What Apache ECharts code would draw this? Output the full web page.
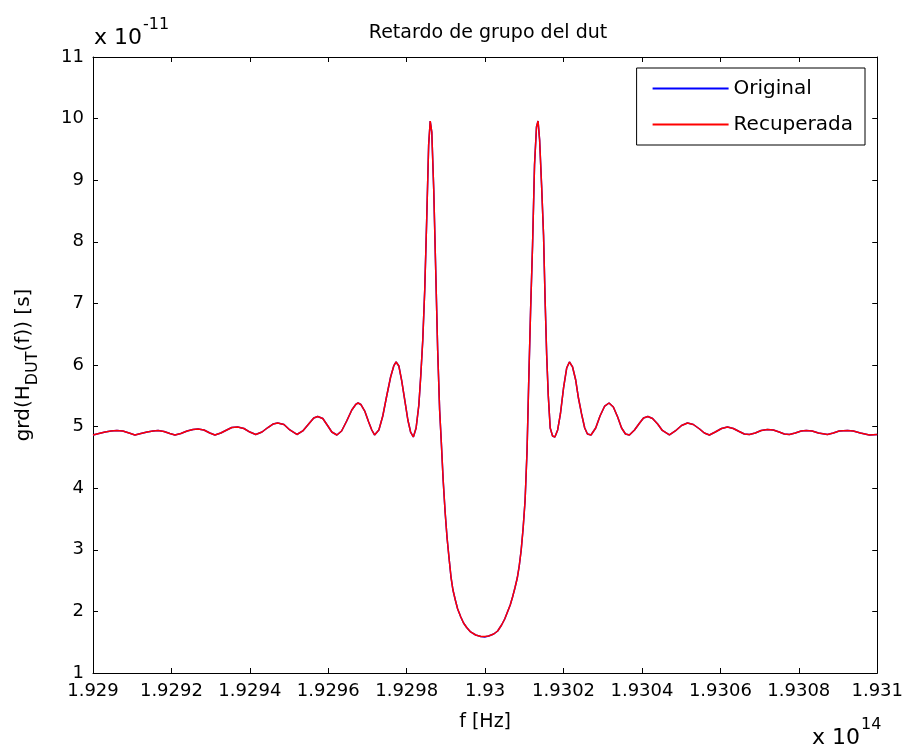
<!DOCTYPE html>
<html>
<head>
<meta charset="utf-8">
<script src="https://cdn.jsdelivr.net/npm/echarts@6/dist/echarts.min.js"></script>
<style>
html,body{margin:0;padding:0;background:#fff;}
#chart{width:906px;height:747px;}
</style>
</head>
<body>
<div id="chart"></div>
<script>
// frequency in units of 1e14 Hz
var freq = [
1.929000,1.929015,1.929031,1.929046,1.929061,1.929076,1.929092,1.929107,1.929122,1.929138,
1.929153,1.929166,1.929181,1.929196,1.929209,1.929224,1.929240,1.929255,1.929268,1.929283,
1.929298,1.929311,1.929326,1.929341,1.929354,1.929369,1.929385,1.929400,1.929415,1.929431,
1.929446,1.929459,1.929471,1.929487,1.929502,1.929520,1.929535,1.929550,1.929563,1.929573,
1.929586,1.929599,1.929609,1.929622,1.929634,1.929647,1.929660,1.929670,1.929676,1.929683,
1.929693,1.929703,1.929711,1.929718,1.929729,1.929739,1.929749,1.929759,1.929767,1.929773,
1.929780,1.929787,1.929795,1.929803,1.929810,1.929817,1.929824,1.929831,1.929836,1.929841,
1.929846,1.929851,1.929856,1.929860,1.929864,1.929869,1.929874,1.929879,1.929884,1.929888,
1.929893,1.929898,1.929903,1.929908,1.929913,1.929918,1.929924,1.929930,1.929938,1.929945,
1.929953,1.929963,1.929976,1.929989,1.929999,1.930009,1.930022,1.930032,1.930042,1.930050,
1.930057,1.930064,1.930070,1.930076,1.930082,1.930087,1.930092,1.930097,1.930102,1.930107,
1.930111,1.930116,1.930121,1.930126,1.930131,1.930135,1.930139,1.930144,1.930149,1.930153,
1.930157,1.930161,1.930166,1.930172,1.930178,1.930185,1.930192,1.930200,1.930208,1.930215,
1.930223,1.930231,1.930238,1.930246,1.930254,1.930261,1.930270,1.930282,1.930293,1.930305,
1.930316,1.930327,1.930338,1.930348,1.930358,1.930368,1.930381,1.930394,1.930404,1.930415,
1.930427,1.930440,1.930452,1.930470,1.930485,1.930501,1.930516,1.930531,1.930547,1.930559,
1.930572,1.930587,1.930603,1.930618,1.930633,1.930648,1.930661,1.930674,1.930689,1.930704,
1.930720,1.930735,1.930750,1.930763,1.930776,1.930791,1.930806,1.930819,1.930834,1.930850,
1.930873,1.930888,1.930903,1.930924,1.930939,1.930957,1.930980,1.931000
];
// group delay in units of 1e-11 s
var original = [
4.864,4.888,4.912,4.929,4.937,4.929,4.896,4.864,4.888,4.912,
4.929,4.937,4.920,4.888,4.864,4.888,4.929,4.953,4.961,4.945,
4.896,4.864,4.896,4.945,4.985,4.994,4.969,4.912,4.872,4.912,
4.985,5.042,5.058,5.034,4.945,4.872,4.929,5.042,5.140,5.164,
5.131,5.010,4.912,4.864,4.929,5.091,5.269,5.359,5.383,5.359,
5.253,5.075,4.945,4.864,4.945,5.172,5.497,5.805,5.984,6.049,
5.984,5.756,5.432,5.107,4.912,4.831,4.977,5.351,5.838,6.406,
7.218,8.354,9.571,9.961,9.782,8.841,7.542,6.244,5.269,4.782,
4.133,3.614,3.192,2.867,2.558,2.347,2.185,2.039,1.909,1.812,
1.739,1.666,1.617,1.593,1.585,1.601,1.633,1.682,1.779,1.877,
1.990,2.104,2.234,2.380,2.542,2.737,2.997,3.354,3.808,4.620,
5.675,6.893,7.948,9.247,9.864,9.961,9.653,8.922,8.110,7.055,
6.162,5.513,4.977,4.847,4.831,4.945,5.205,5.627,5.951,6.049,
5.968,5.756,5.464,5.205,4.977,4.880,4.864,4.977,5.172,5.334,
5.383,5.318,5.156,4.977,4.880,4.864,4.945,5.058,5.140,5.164,
5.131,5.042,4.937,4.864,4.929,5.018,5.058,5.034,4.961,4.896,
4.864,4.912,4.969,4.994,4.969,4.920,4.880,4.872,4.896,4.937,
4.953,4.945,4.912,4.880,4.872,4.896,4.929,4.937,4.929,4.896,
4.872,4.896,4.929,4.937,4.929,4.896,4.864,4.872
];
var recuperada = [
4.864,4.888,4.912,4.929,4.937,4.929,4.896,4.864,4.888,4.912,
4.929,4.937,4.920,4.888,4.864,4.888,4.929,4.953,4.961,4.945,
4.896,4.864,4.896,4.945,4.985,4.994,4.969,4.912,4.872,4.912,
4.985,5.042,5.058,5.034,4.945,4.872,4.929,5.042,5.140,5.164,
5.131,5.010,4.912,4.864,4.929,5.091,5.269,5.359,5.383,5.359,
5.253,5.075,4.945,4.864,4.945,5.172,5.497,5.805,5.984,6.049,
5.984,5.756,5.432,5.107,4.912,4.831,4.977,5.351,5.838,6.406,
7.218,8.354,9.571,9.961,9.782,8.841,7.542,6.244,5.269,4.782,
4.133,3.614,3.192,2.867,2.558,2.347,2.185,2.039,1.909,1.812,
1.739,1.666,1.617,1.593,1.593,1.601,1.633,1.682,1.779,1.877,
1.990,2.104,2.234,2.380,2.542,2.737,2.997,3.354,3.808,4.620,
5.675,6.893,7.948,9.247,9.864,9.961,9.653,8.922,8.110,7.055,
6.162,5.513,4.977,4.847,4.831,4.945,5.205,5.627,5.951,6.049,
5.968,5.756,5.464,5.205,4.977,4.880,4.864,4.977,5.172,5.334,
5.383,5.318,5.156,4.977,4.880,4.864,4.945,5.058,5.140,5.164,
5.131,5.042,4.937,4.864,4.929,5.018,5.058,5.034,4.961,4.896,
4.864,4.912,4.969,4.994,4.969,4.920,4.880,4.872,4.896,4.937,
4.953,4.945,4.912,4.880,4.872,4.896,4.929,4.937,4.929,4.896,
4.872,4.896,4.929,4.937,4.929,4.896,4.864,4.872
];
var xTicks = [1.929,1.9292,1.9294,1.9296,1.9298,1.93,1.9302,1.9304,1.9306,1.9308,1.931];
var yTicks = [1,2,3,4,5,6,7,8,9,10,11];

function pairs(xs, ys){ return xs.map(function(x,i){ return [x, ys[i]]; }); }

var FONT = 'DejaVu Sans';
var chart = echarts.init(document.getElementById('chart'), null, {renderer:'canvas'});
var axisCommon = {
  type:'value',
  axisLine:{show:true, lineStyle:{color:'#000', width:1}},
  axisTick:{show:true, inside:true, length:5, lineStyle:{color:'#000', width:1}},
  splitLine:{show:false}
};
chart.setOption({
  animation:false,
  backgroundColor:'#fff',
  title:{
    text:'Retardo de grupo del dut',
    left:483, top:19, textAlign:'center',
    textStyle:{fontFamily:FONT, fontSize:19, fontWeight:'normal', color:'#000'}
  },
  grid:{left:93, top:57, width:785, height:616, containLabel:false},
  legend:{
    orient:'vertical', right:41, top:68,
    backgroundColor:'#fff', borderColor:'#000', borderWidth:1,
    padding:[9,12,9,16], itemGap:13, itemWidth:76, itemHeight:2, icon:'rect',
    textStyle:{fontFamily:FONT, fontSize:20, color:'#000', lineHeight:23},
    data:['Original','Recuperada']
  },
  xAxis:[
    Object.assign({}, axisCommon, {
      position:'bottom', min:xTicks[0], max:xTicks[xTicks.length-1], interval:0.0002,
      axisLabel:{show:true, margin:9, color:'#000', fontFamily:FONT, fontSize:18,
        formatter:function(v){ return String(Number(v.toFixed(4))); }},
      name:'f [Hz]', nameLocation:'middle', nameGap:40,
      nameTextStyle:{fontFamily:FONT, fontSize:19, color:'#000'}
    }),
    Object.assign({}, axisCommon, {
      position:'top', min:xTicks[0], max:xTicks[xTicks.length-1], interval:0.0002,
      axisLabel:{show:false}
    })
  ],
  yAxis:[
    Object.assign({}, axisCommon, {
      position:'left', min:yTicks[0], max:yTicks[yTicks.length-1], interval:1,
      axisLabel:{show:true, margin:9, color:'#000', fontFamily:FONT, fontSize:18},
      name:'{a|grd(H}{b|DUT}{a|(f)) [s]}', nameLocation:'middle', nameGap:54, nameRotate:90,
      nameTextStyle:{
        rich:{
          a:{fontFamily:FONT, fontSize:20, color:'#000', lineHeight:25, verticalAlign:'top'},
          b:{fontFamily:FONT, fontSize:16, color:'#000', lineHeight:25, verticalAlign:'top', padding:[11,0,0,0]}
        }
      }
    }),
    Object.assign({}, axisCommon, {
      position:'right', min:yTicks[0], max:yTicks[yTicks.length-1], interval:1,
      axisLabel:{show:false}
    })
  ],
  graphic:[
    {type:'text', left:94, top:17, style:{
      text:'{a|x 10}{b|-11}',
      rich:{
        a:{fontFamily:FONT, fontSize:22, fill:'#000', padding:[14,0,0,0]},
        b:{fontFamily:FONT, fontSize:16, fill:'#000', padding:[0,0,12,1]}
      }}},
    {type:'text', left:812, top:717, style:{
      text:'{a|x 10}{b|14}',
      rich:{
        a:{fontFamily:FONT, fontSize:22, fill:'#000', padding:[14,0,0,0]},
        b:{fontFamily:FONT, fontSize:16, fill:'#000', padding:[0,0,12,1]}
      }}}
  ],
  series:[
    {name:'Original', type:'line', xAxisIndex:0, yAxisIndex:0, data:pairs(freq, original),
      symbol:'none', lineStyle:{color:'#0000ff', width:1.5}, itemStyle:{color:'#0000ff'}},
    {name:'Recuperada', type:'line', xAxisIndex:0, yAxisIndex:0, data:pairs(freq, recuperada),
      symbol:'none', lineStyle:{color:'#ff0000', width:1.5}, itemStyle:{color:'#ff0000'}}
  ]
});
</script>
</body>
</html>
